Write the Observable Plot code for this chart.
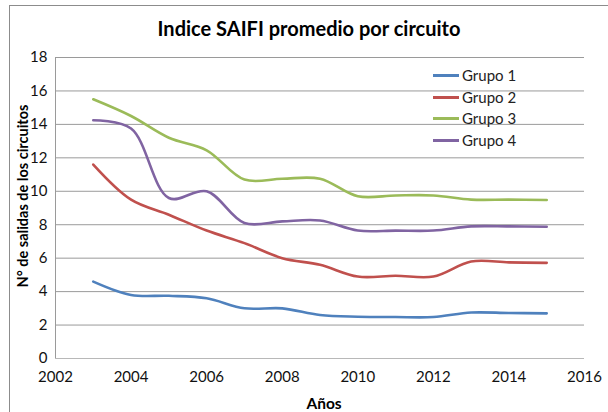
<!DOCTYPE html>
<html>
<head>
<meta charset="utf-8">
<script src="https://cdn.jsdelivr.net/npm/d3@7"></script>
<script src="https://cdn.jsdelivr.net/npm/@observablehq/plot@0.6"></script>
<style>
  body { margin: 0; background: #fff; }
  #wrap { position: relative; width: 608px; height: 412px; overflow: hidden; font-family: Lato, "Open Sans", sans-serif; }
  #border { position: absolute; left: 9px; top: 5px; width: 640px; height: 440px; border: 1px solid #8c8c8c; box-sizing: border-box; }
  #chart { position: absolute; left: 0; top: 0; }
  .title { position: absolute; left: 0; width: 618px; top: 16px; text-align: center; font-weight: bold; font-size: 20px; color: #000; }
  .ylab { position: absolute; left: 22px; top: 196px; transform: translate(-50%, -50%) rotate(-90deg); white-space: nowrap; font-weight: bold; font-size: 14.5px; color: #000; }
  .xlab { position: absolute; left: 324px; top: 403px; transform: translate(-50%, -50%); font-weight: bold; font-size: 15.5px; color: #000; }
  .leg { position: absolute; left: 433px; font-size: 15px; color: #222; display: flex; align-items: center; }
  .leg span.sw { display: inline-block; width: 26px; height: 3px; margin-right: 3px; }
</style>
</head>
<body>
<div id="wrap">
  <div id="border"></div>
  <div id="chart"></div>
</div>
<script>
const years = [2003, 2004, 2005, 2006, 2007, 2008, 2009, 2010, 2011, 2012, 2013, 2014, 2015];
const grupo1 = [4.6, 3.8, 3.75, 3.6, 3.0, 3.0, 2.6, 2.5, 2.48, 2.48, 2.75, 2.72, 2.7];
const grupo2 = [11.6, 9.5, 8.6, 7.65, 6.9, 6.0, 5.6, 4.9, 4.95, 4.9, 5.8, 5.75, 5.72];
const grupo3 = [15.5, 14.5, 13.2, 12.45, 10.7, 10.75, 10.75, 9.7, 9.75, 9.75, 9.5, 9.5, 9.48];
const grupo4 = [14.25, 13.75, 9.6, 10.0, 8.1, 8.2, 8.25, 7.65, 7.65, 7.65, 7.9, 7.9, 7.88];
const seriesNames = ["Grupo 1", "Grupo 2", "Grupo 3", "Grupo 4"];
const seriesColors = ["#4F81BD", "#C0504D", "#9BBB59", "#8064A2"];
const xTicks = [2002, 2004, 2006, 2008, 2010, 2012, 2014, 2016];
const yTicks = [0, 2, 4, 6, 8, 10, 12, 14, 16, 18];
const titleText = "Indice SAIFI promedio por circuito";
const yLabel = "N° de salidas de los circuitos";
const xLabel = "Años";

const seriesValues = [grupo1, grupo2, grupo3, grupo4];
const data = seriesNames.flatMap((name, i) =>
  years.map((year, j) => ({ year, value: seriesValues[i][j], grupo: name }))
);

const chart = Plot.plot({
  width: 608,
  height: 412,
  marginTop: 57,
  marginBottom: 54,
  marginLeft: 55,
  marginRight: 24,
  style: { fontFamily: "Lato, 'Open Sans', sans-serif", fontSize: "15px", color: "#000", background: "transparent" },
  x: { domain: [2002, 2016], label: null },
  y: { domain: [0, 18], label: null },
  color: { domain: seriesNames, range: seriesColors },
  marks: [
    Plot.ruleY(yTicks.filter(d => d > 0), { stroke: "#9a9a9a", strokeWidth: 1 }),
    Plot.ruleY([0], { stroke: "#b8b8b8", strokeWidth: 1 }),
    Plot.ruleX([2002], { stroke: "#9a9a9a", strokeWidth: 1 }),
    Plot.axisX({ ticks: xTicks, tickFormat: "d", tickSize: 0, tickPadding: 13, label: null, fill: "#111" }),
    Plot.axisY({ ticks: yTicks, tickSize: 0, tickPadding: 8, label: null, fill: "#111" }),
    Plot.line(data, { x: "year", y: "value", z: "grupo", stroke: "grupo", curve: "catmull-rom", strokeWidth: 2.6 })
  ]
});
document.getElementById("chart").appendChild(chart);

const wrap = document.getElementById("wrap");
const t = document.createElement("div"); t.className = "title"; t.textContent = titleText; wrap.appendChild(t);
const yl = document.createElement("div"); yl.className = "ylab"; yl.textContent = yLabel; wrap.appendChild(yl);
const xl = document.createElement("div"); xl.className = "xlab"; xl.textContent = xLabel; wrap.appendChild(xl);
const legendTops = [66, 88, 109, 131];
seriesNames.forEach((name, i) => {
  const d = document.createElement("div");
  d.className = "leg";
  d.style.top = legendTops[i] + "px";
  const sw = document.createElement("span"); sw.className = "sw"; sw.style.background = seriesColors[i];
  const tx = document.createElement("span"); tx.textContent = name;
  d.appendChild(sw); d.appendChild(tx);
  wrap.appendChild(d);
});
</script>
</body>
</html>
